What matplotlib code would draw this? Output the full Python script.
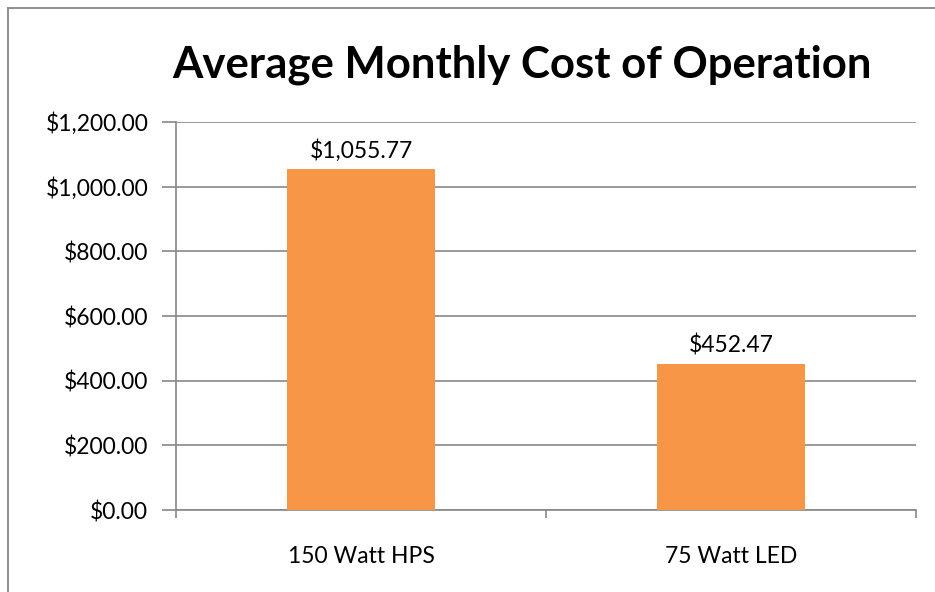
import matplotlib.pyplot as plt
from matplotlib.lines import Line2D

categories = ["150 Watt HPS", "75 Watt LED"]
costs = [1055.77, 452.47]
yticks = [0, 200, 400, 600, 800, 1000, 1200]

plt.rcParams['font.family'] = ['Lato', 'DejaVu Sans']
grey = '#878787'

fig = plt.figure(figsize=(9.35, 5.92), dpi=100)
ax = fig.add_axes([176 / 935, 1 - 510 / 592, 740 / 935, 388 / 592])

# outer chart border: only top and left edges are visible in the crop
fig.add_artist(Line2D([8 / 935, 1.1], [1 - 8 / 592, 1 - 8 / 592],
                      transform=fig.transFigure, color=grey, linewidth=1.3))
fig.add_artist(Line2D([8 / 935, 8 / 935], [-0.1, 1 - 8 / 592],
                      transform=fig.transFigure, color=grey, linewidth=1.3))

x = list(range(len(categories)))
ax.bar(x, costs, width=0.4, color='#F79646', zorder=3)
for xi, v in zip(x, costs):
    ax.text(xi, v + 22, "${:,.2f}".format(v), ha='center', va='bottom', fontsize=16.5)

ax.set_xlim(-0.5, 1.5)
ax.set_ylim(0, 1200)
ax.set_yticks(yticks)
ax.set_yticklabels(["${:,.2f}".format(t) for t in yticks], fontsize=16.5)
ax.yaxis.grid(True, color=grey, linewidth=1.2, zorder=0)
ax.tick_params(axis='y', length=10, width=1.2, color=grey, pad=10)

ax.set_xticks([-0.5, 0.5, 1.5])
ax.set_xticklabels([])
ax.tick_params(axis='x', length=6, width=1.2, color=grey)
ax.set_xticks(x, minor=True)
ax.set_xticklabels(categories, minor=True, fontsize=16.5)
ax.tick_params(axis='x', which='minor', length=0, pad=26)

for s in ['top', 'right']:
    ax.spines[s].set_visible(False)
for s in ['left', 'bottom']:
    ax.spines[s].set_color(grey)
    ax.spines[s].set_linewidth(1.2)

fig.text(522 / 935, 1 - 65 / 592, "Average Monthly Cost of Operation",
         ha='center', va='center', fontsize=31.5, fontweight='bold')

fig.savefig('out.png', dpi=100)
